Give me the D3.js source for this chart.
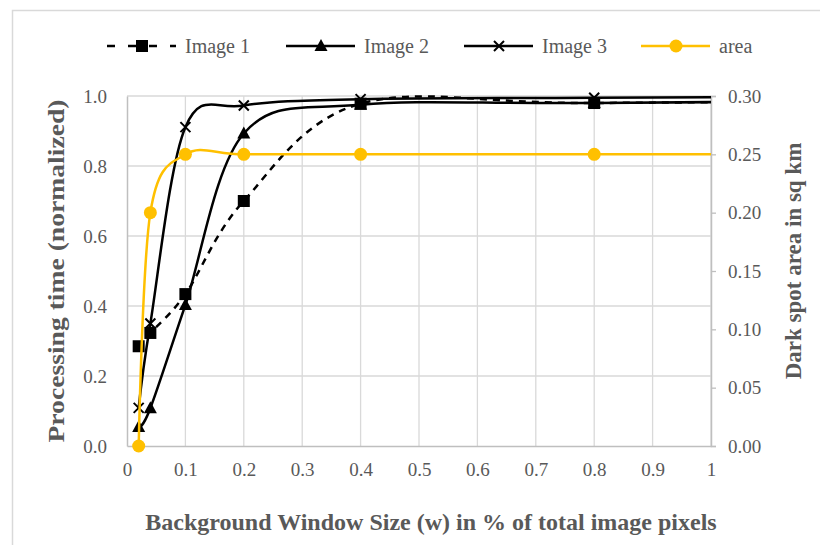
<!DOCTYPE html>
<html>
<head>
<meta charset="utf-8">
<script src="https://d3js.org/d3.v7.min.js"></script>
<style>
  body { margin: 0; background: #fff; }
  svg text { font-family: "Liberation Serif", "DejaVu Serif", serif !important; fill: #595959; }
</style>
</head>
<body>
<script>
// data (w in % of pixels)
var xVals = [0.02, 0.04, 0.1, 0.2, 0.4, 0.8, 1.6];
var image1 = [0.285, 0.323, 0.434, 0.70, 0.978, 0.98, 0.99];
var image2 = [0.054, 0.108, 0.403, 0.893, 0.975, 0.98, 0.99];
var image3 = [0.109, 0.35, 0.911, 0.973, 0.991, 0.995, 1.0];
var area   = [0.0, 0.20, 0.25, 0.25, 0.25, 0.25, 0.25];
var xTicks = [0, 0.1, 0.2, 0.3, 0.4, 0.5, 0.6, 0.7, 0.8, 0.9, 1];
var yTicks = [0, 0.2, 0.4, 0.6, 0.8, 1.0];
var y2Ticks = [0, 0.05, 0.10, 0.15, 0.20, 0.25, 0.30];
var markerEnd = 6; // markers only for the visible points

var w = 820, h = 545;
var margin = { top: 96, left: 127, right: 109, bottom: 99 };
var width = w - margin.left - margin.right;
var height = h - margin.top - margin.bottom;
var serif = "Liberation Serif";

var svg = d3.select("body").append("svg").attr("width", w).attr("height", h);

// outer frame (only top and left edges visible)
svg.append("path").attr("d", "M12.5,545 V10.5 H820")
  .attr("fill", "none").attr("stroke", "#d9d9d9").attr("stroke-width", 1.5);

var chart = svg.append("g").attr("transform", "translate(" + margin.left + "," + margin.top + ")");

var x = d3.scaleLinear().domain([0, 1]).range([0, width]);
var y = d3.scaleLinear().domain([0, 1]).range([height, 0]);
var y2 = d3.scaleLinear().domain([0, 0.3]).range([height, 0]);

// gridlines
chart.append("g").selectAll("line").data(xTicks.slice(1)).enter().append("line")
  .attr("x1", x).attr("x2", x).attr("y1", 0).attr("y2", height)
  .attr("stroke", "#d9d9d9").attr("stroke-width", 1.3);
chart.append("g").selectAll("line").data(yTicks.slice(1)).enter().append("line")
  .attr("x1", 0).attr("x2", width).attr("y1", y).attr("y2", y)
  .attr("stroke", "#d9d9d9").attr("stroke-width", 1.3);

// axes
var xAxis = chart.append("g").attr("transform", "translate(0," + height + ")")
  .call(d3.axisBottom(x).tickValues(xTicks).tickSize(0).tickPadding(17)
    .tickFormat(function(d) { return d === 0 ? "0" : d === 1 ? "1" : d3.format(".1f")(d); }));
var yAxis = chart.append("g")
  .call(d3.axisLeft(y).tickValues(yTicks).tickSize(0).tickPadding(20).tickFormat(d3.format(".1f")));
var y2Axis = chart.append("g").attr("transform", "translate(" + width + ",0)")
  .call(d3.axisRight(y2).tickValues(y2Ticks).tickSize(5).tickPadding(12).tickFormat(d3.format(".2f")));
[xAxis, yAxis, y2Axis].forEach(function(a) {
  a.attr("font-family", serif).attr("font-size", 19);
  a.select(".domain").attr("stroke", "#bfbfbf").attr("stroke-width", 1.5);
  a.selectAll(".tick line").attr("stroke", "#bfbfbf").attr("stroke-width", 1.3);
  a.selectAll("text").attr("fill", "#595959");
});

// clip for lines running past x = 1
svg.append("defs").append("clipPath").attr("id", "clip")
  .append("rect").attr("x", -10).attr("y", -10).attr("width", width + 10).attr("height", height + 20);

var curve = d3.curveCardinal.tension(0);
function lineFor(scale) {
  return d3.line().curve(curve).x(function(d, i) { return x(xVals[i]); }).y(function(d) { return scale(d); });
}

var series = [
  { name: "Image 1", data: image1, scale: y, color: "#000", dash: "7,6", marker: "square" },
  { name: "Image 2", data: image2, scale: y, color: "#000", dash: null, marker: "triangle" },
  { name: "Image 3", data: image3, scale: y, color: "#000", dash: null, marker: "cross" },
  { name: "area", data: area, scale: y2, color: "#ffc000", dash: null, marker: "circle" }
];

function drawMarker(g, type, color) {
  if (type === "square") g.append("rect").attr("x", -6).attr("y", -6).attr("width", 12).attr("height", 12).attr("fill", color);
  if (type === "triangle") g.append("path").attr("d", "M0,-7 L6.5,5 L-6.5,5 Z").attr("fill", color);
  if (type === "cross") g.append("path").attr("d", "M-5,-5 L5,5 M-5,5 L5,-5").attr("stroke", color).attr("stroke-width", 2);
  if (type === "circle") g.append("circle").attr("r", 6.5).attr("fill", color);
}

var plot = chart.append("g").attr("clip-path", "url(#clip)");
series.forEach(function(s) {
  plot.append("path").datum(s.data)
    .attr("d", lineFor(s.scale))
    .attr("fill", "none").attr("stroke", s.color).attr("stroke-width", 2.5)
    .attr("stroke-dasharray", s.dash);
  s.data.slice(0, markerEnd).forEach(function(v, i) {
    var g = plot.append("g").attr("transform", "translate(" + x(xVals[i]) + "," + s.scale(v) + ")");
    drawMarker(g, s.marker, s.color);
  });
});

// legend
var legendX = [107, 286, 464, 641];
var legend = svg.append("g").selectAll("g").data(series).enter().append("g")
  .attr("transform", function(d, i) { return "translate(" + legendX[i] + ",46)"; });
legend.append("line").attr("x1", 0).attr("x2", 69).attr("y1", 0).attr("y2", 0)
  .attr("stroke", function(d) { return d.color; }).attr("stroke-width", 2.5)
  .attr("stroke-dasharray", function(d) { return d.dash ? "8,13" : null; });
legend.each(function(d) {
  var g = d3.select(this).append("g").attr("transform", "translate(35,0)");
  drawMarker(g, d.marker, d.color);
});
legend.append("text").attr("x", 78).attr("y", 7).attr("font-size", 20).attr("font-family", serif)
  .text(function(d) { return d.name; });

// axis titles
svg.append("text").attr("transform", "translate(64,271) rotate(-90)")
  .attr("text-anchor", "middle").attr("font-size", 23).attr("font-weight", "bold").attr("font-family", serif)
  .attr("textLength", 343).attr("lengthAdjust", "spacingAndGlyphs")
  .text("Processing time (normalized)");
svg.append("text").attr("transform", "translate(801,261) rotate(-90)")
  .attr("text-anchor", "middle").attr("font-size", 23).attr("font-weight", "bold").attr("font-family", serif)
  .text("Dark spot area in sq km");
svg.append("text").attr("x", 431).attr("y", 530)
  .attr("text-anchor", "middle").attr("font-size", 24).attr("font-weight", "bold").attr("font-family", serif)
  .text("Background Window Size (w) in % of total image pixels");
</script>
</body>
</html>
